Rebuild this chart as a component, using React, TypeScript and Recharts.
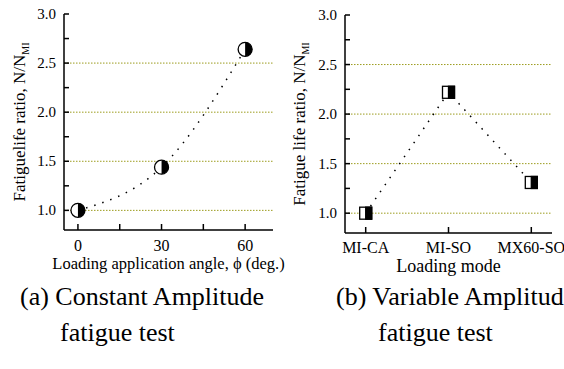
import { LineChart, Line, XAxis, YAxis, ReferenceLine, Label } from 'recharts';

// (a) constant amplitude: loading angle vs life ratio
const angleDeg = [0, 30, 60];
const angleRatio = [1.0, 1.44, 2.64];

// (b) variable amplitude: loading mode vs life ratio
const modeNames = ['MI-CA', 'MI-SO', 'MX60-SO'];
const modeIndex = [0, 1, 2];
const modeRatio = [1.0, 2.22, 1.31];

const yTicks = [1.0, 1.25, 1.5, 1.75, 2.0, 2.25, 2.5, 2.75, 3.0];
const yLabelTicks = [1.0, 1.5, 2.0, 2.5, 3.0];
const gridValues = [1.0, 1.5, 2.0, 2.5];
const angleTicks = [0, 15, 30, 45, 60];
const angleLabelTicks = [0, 30, 60];

const FONT = "'Times New Roman', Times, 'Liberation Serif', serif";
const GRID = '#9c9c1e';

const angleData = angleDeg.map((a, i) => ({ angle: a, ratio: angleRatio[i] }));
const modeData = modeIndex.map((m, i) => ({ mode: m, ratio: modeRatio[i] }));

const txt = (size: number) => ({ fontFamily: FONT, fontSize: size });

function YTick(props: any) {
  const { x, y, payload } = props;
  const major = yLabelTicks.includes(payload.value);
  return (
    <g>
      <line x1={x} x2={x + 5} y1={y} y2={y} stroke="#000" strokeWidth={1.5} />
      {major && (
        <text x={x - 8} y={y + 5} textAnchor="end" style={txt(15)} fill="#000">
          {payload.value.toFixed(1)}
        </text>
      )}
    </g>
  );
}

function AngleTick(props: any) {
  const { x, y, payload } = props;
  return (
    <g>
      <line x1={x} x2={x} y1={y} y2={y - 6} stroke="#000" strokeWidth={1.5} />
      {angleLabelTicks.includes(payload.value) && (
        <text x={x} y={y + 21} textAnchor="middle" style={txt(16)} fill="#000">
          {payload.value}
        </text>
      )}
    </g>
  );
}

function ModeTick(props: any) {
  const { x, y, payload } = props;
  return (
    <g>
      <line x1={x} x2={x} y1={y} y2={y - 6} stroke="#000" strokeWidth={1.5} />
      <text x={x} y={y + 20} textAnchor="middle" style={txt(16)} fill="#000">
        {modeNames[payload.value]}
      </text>
    </g>
  );
}

function HalfCircle(props: any) {
  const { cx, cy } = props;
  const r = 7;
  return (
    <g>
      <circle cx={cx} cy={cy} r={r} fill="#fff" stroke="#000" strokeWidth={1.3} />
      <path d={`M${cx},${cy - r} A${r},${r} 0 0 1 ${cx},${cy + r} Z`} fill="#000" />
    </g>
  );
}

function HalfSquare(props: any) {
  const { cx, cy } = props;
  const s = 6;
  return (
    <g>
      <rect x={cx - s} y={cy - s} width={s * 2} height={s * 2} fill="#fff" stroke="#000" strokeWidth={1.3} />
      <rect x={cx} y={cy - s} width={s} height={s * 2} fill="#000" stroke="#000" strokeWidth={1.3} />
    </g>
  );
}

const yLabel = (text: string, offsetX: number) => (props: any) => {
  const vb = props.viewBox;
  const cx = vb.x + offsetX;
  const cy = vb.y + vb.height / 2;
  return (
    <text transform={`translate(${cx},${cy}) rotate(-90)`} textAnchor="middle" style={txt(17)} fill="#000">
      {text}
      <tspan style={txt(10)} dy={4}>MI</tspan>
    </text>
  );
};

const xLabel = (text: string, size: number) => (props: any) => {
  const vb = props.viewBox;
  return (
    <text x={vb.x + vb.width / 2} y={vb.y + 39} textAnchor="middle" style={txt(size)} fill="#000">
      {text}
    </text>
  );
};

export default function App() {
  return (
    <div style={{ position: 'absolute', left: 0, top: 0, width: 564, height: 369, overflow: 'hidden', background: '#fff' }}>
      <div style={{ position: 'absolute', left: 0, top: 0 }}>
        <LineChart width={300} height={290} data={angleData} margin={{ top: 14, right: 27, left: 0, bottom: 0 }}>
          {gridValues.map((v) => (
            <ReferenceLine key={v} y={v} stroke={GRID} strokeDasharray="1.5 1.5" strokeWidth={1} />
          ))}
          <XAxis
            dataKey="angle"
            type="number"
            domain={[-5, 70]}
            ticks={angleTicks}
            interval={0}
            height={60}
            tickSize={0}
            tickMargin={0}
            tickLine={false}
            tick={<AngleTick />}
            axisLine={{ stroke: '#000', strokeWidth: 1.5 }}
          >
            <Label content={xLabel('Loading application angle, \u03D5 (deg.)', 16.5)} />
          </XAxis>
          <YAxis
            type="number"
            domain={[0.8, 3.0]}
            ticks={yTicks}
            interval={0}
            width={64}
            tickSize={0}
            tickMargin={0}
            tickLine={false}
            tick={<YTick />}
            axisLine={{ stroke: '#000', strokeWidth: 1.5 }}
          >
            <Label content={yLabel('Fatiguelife ratio, N/N', 25)} />
          </YAxis>
          <Line
            type="monotoneX"
            dataKey="ratio"
            stroke="#000"
            strokeWidth={1.5}
            strokeDasharray="1.5 7"
            dot={(p: any) => <HalfCircle key={`c-${p.index}`} cx={p.cx} cy={p.cy} />}
            isAnimationActive={false}
          />
        </LineChart>
      </div>
      <div style={{ position: 'absolute', left: 282, top: 0 }}>
        <LineChart width={282} height={290} data={modeData} margin={{ top: 15, right: 12, left: 0, bottom: 0 }}>
          {gridValues.map((v) => (
            <ReferenceLine key={v} y={v} stroke={GRID} strokeDasharray="1.5 1.5" strokeWidth={1} />
          ))}
          <XAxis
            dataKey="mode"
            type="number"
            domain={[-0.25, 2.25]}
            ticks={modeIndex}
            interval={0}
            height={57}
            tickSize={0}
            tickMargin={0}
            tickLine={false}
            tick={<ModeTick />}
            axisLine={{ stroke: '#000', strokeWidth: 1.5 }}
          >
            <Label content={xLabel('Loading mode', 18)} />
          </XAxis>
          <YAxis
            type="number"
            domain={[0.8, 3.0]}
            ticks={yTicks}
            interval={0}
            width={63}
            tickSize={0}
            tickMargin={0}
            tickLine={false}
            tick={<YTick />}
            axisLine={{ stroke: '#000', strokeWidth: 1.5 }}
          >
            <Label content={yLabel('Fatigue life ratio, N/N', 23)} />
          </YAxis>
          <Line
            type="linear"
            dataKey="ratio"
            stroke="#000"
            strokeWidth={1.5}
            strokeDasharray="1.5 7"
            dot={(p: any) => <HalfSquare key={`s-${p.index}`} cx={p.cx} cy={p.cy} />}
            isAnimationActive={false}
          />
        </LineChart>
      </div>
      <svg width={564} height={369} style={{ position: 'absolute', left: 0, top: 0, pointerEvents: 'none' }}>
        <g style={txt(26)} fill="#000">
          <text x={20} y={305}>(a) Constant Amplitude</text>
          <text x={60} y={341}>fatigue test</text>
          <text x={336} y={305}>(b) Variable Amplitude</text>
          <text x={378} y={341}>fatigue test</text>
        </g>
      </svg>
    </div>
  );
}
